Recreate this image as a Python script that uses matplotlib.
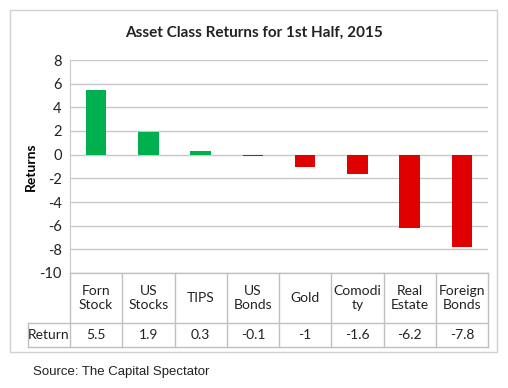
import matplotlib.pyplot as plt
from matplotlib.patches import Rectangle
from matplotlib.transforms import blended_transform_factory

categories = ["Forn\nStock", "US\nStocks", "TIPS", "US\nBonds", "Gold", "Comodi\nty", "Real\nEstate", "Foreign\nBonds"]
returns = [5.5, 1.9, 0.3, -0.1, -1, -1.6, -6.2, -7.8]
return_labels = ["5.5", "1.9", "0.3", "-0.1", "-1", "-1.6", "-6.2", "-7.8"]

W, H = 508, 388
plt.rcParams["font.family"] = ["Lato", "DejaVu Sans"]
plt.rcParams["axes.unicode_minus"] = False
fig = plt.figure(figsize=(W / 100, H / 100), dpi=100)

# outer chart frame
fig.add_artist(Rectangle((10 / W, 1 - 352 / H), 487 / W, 342 / H, transform=fig.transFigure,
                         fill=False, edgecolor="#D0D0D0", linewidth=1))

left, right, top, bottom = 70, 488, 60, 273
ax = fig.add_axes([left / W, 1 - bottom / H, (right - left) / W, (bottom - top) / H])

x = list(range(len(categories)))
colors = ["#00B050" if v > 0 else "#E00000" for v in returns]
ax.bar(x, returns, width=0.39, color=colors, zorder=3)

ax.set_xlim(-0.5, len(categories) - 0.5)
ax.set_ylim(-10, 8)
ax.set_yticks(range(-10, 9, 2))
ax.set_xticks([])
ax.tick_params(axis="y", length=0, labelsize=10.5, pad=6, labelcolor="#222222")
ax.grid(axis="y", color="#C8C8C8", linewidth=1, zorder=0)
for s in ["top", "right", "bottom"]:
    ax.spines[s].set_visible(False)
ax.spines["left"].set_color("#C8C8C8")
ax.set_ylabel("Returns", fontsize=10, fontweight="bold", labelpad=2)

fig.text(254 / W, 1 - 33 / H, "Asset Class Returns for 1st Half, 2015",
         fontsize=11, fontweight="bold", ha="center", va="center", color="#222222")

# data table below the plot
tr = blended_transform_factory(ax.transData, ax.transAxes)
ph = bottom - top
y_cat = -50 / ph
y_ret = -74 / ph
lc = "#C0C0C0"
x_left_tab = -0.5 - (left - 28) / ((right - left) / len(categories))
ax.plot([-0.5, 7.5], [0, 0], transform=tr, color=lc, lw=1, clip_on=False)
ax.plot([x_left_tab, 7.5], [y_cat, y_cat], transform=tr, color=lc, lw=1, clip_on=False)
ax.plot([x_left_tab, 7.5], [y_ret, y_ret], transform=tr, color=lc, lw=1, clip_on=False)
ax.plot([x_left_tab, x_left_tab], [y_cat, y_ret], transform=tr, color=lc, lw=1, clip_on=False)
for b in range(len(categories) + 1):
    ax.plot([b - 0.5, b - 0.5], [0, y_ret], transform=tr, color=lc, lw=1, clip_on=False)
for i, (c, r) in enumerate(zip(categories, return_labels)):
    ax.text(i, y_cat / 2, c, transform=tr, ha="center", va="center", fontsize=10,
            color="#222222", linespacing=1.25)
    ax.text(i, (y_cat + y_ret) / 2, r, transform=tr, ha="center", va="center", fontsize=10,
            color="#222222")
ax.text((x_left_tab - 0.5) / 2, (y_cat + y_ret) / 2, "Return", transform=tr, ha="center",
        va="center", fontsize=10, color="#222222")

fig.text(33 / W, 1 - 372 / H, "Source: The Capital Spectator", fontsize=9.5,
         family="Liberation Sans", ha="left", va="center", color="#222222")

plt.savefig("out.png", dpi=100)
